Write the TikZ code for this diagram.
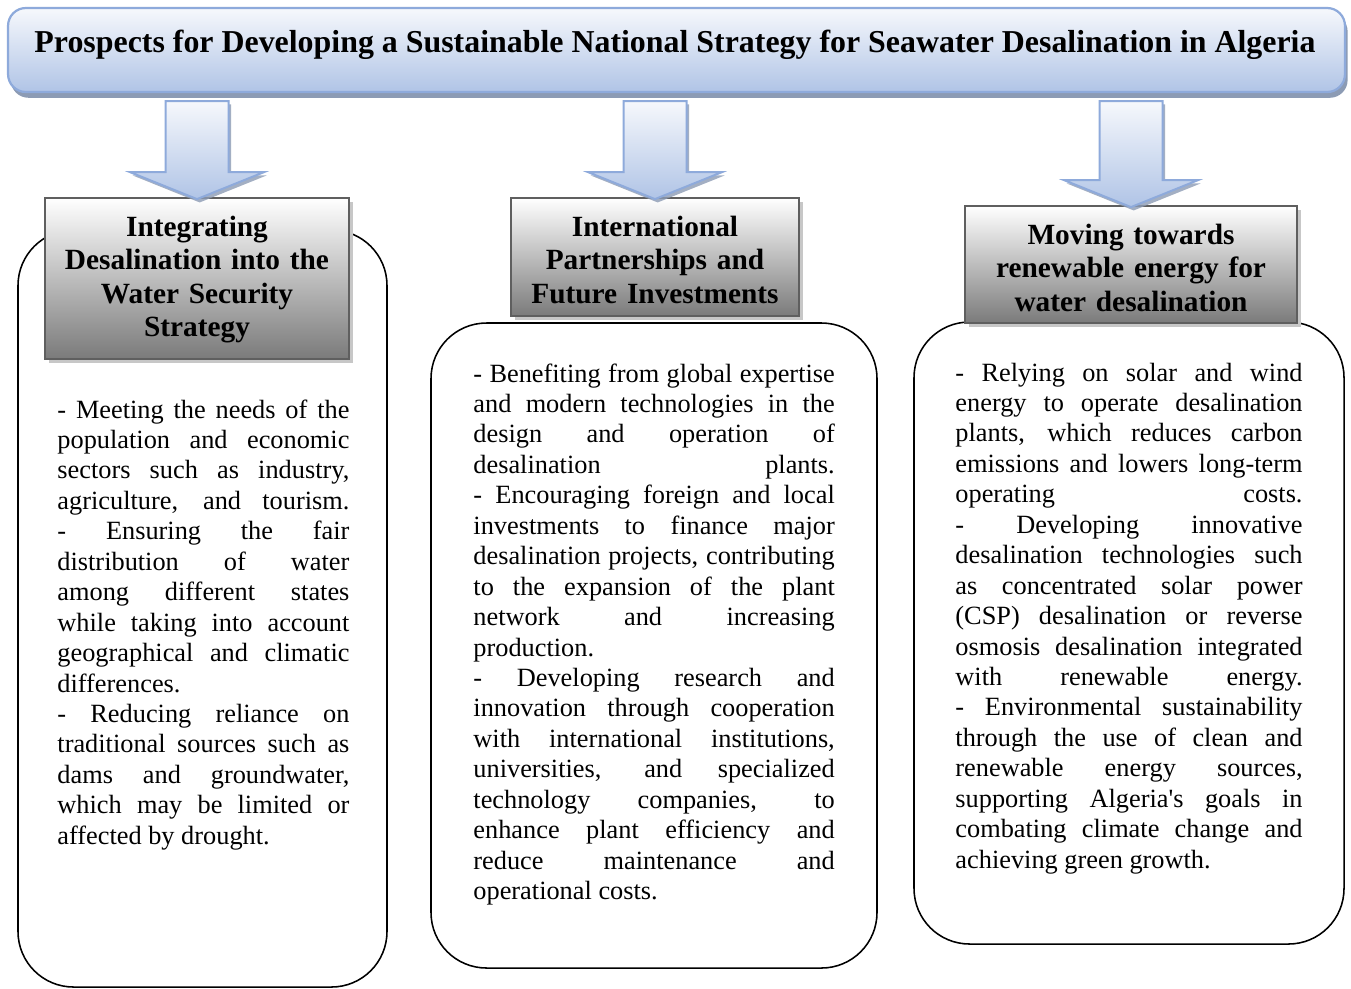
\documentclass[tikz,border=0pt]{standalone}
\usepackage{fontspec}
\setmainfont{Liberation Serif}
\usepackage{tikz}
\usetikzlibrary{positioning,calc,shadows}

\definecolor{paleblue}{HTML}{F6F8FC}
\definecolor{skyblue}{HTML}{B0C4E6}
\definecolor{edgeblue}{HTML}{8EAADB}
\definecolor{shadeblue}{HTML}{8C9BB4}
\definecolor{edgegray}{HTML}{5F5F5F}

\newcommand{\bodyset}{\tolerance=10000\hyphenpenalty=10000\exhyphenpenalty=10000\relax}

\tikzset{
    %Define style for the title banner
    banner/.style={
           draw=edgeblue, line width=1pt,
           rounded corners=8pt,
           top color=paleblue, bottom color=skyblue,
           drop shadow={shadow xshift=1.2pt, shadow yshift=-2.6pt,
                        fill=shadeblue, opacity=1}},
    %Define style for the grey headings
    headbox/.style={
           draw=edgegray, line width=0.8pt,
           top color=white, bottom color=black!52,
           drop shadow={shadow xshift=2pt, shadow yshift=-2pt,
                        fill=black!22, opacity=1}},
    %Define style for the rounded text cards
    card/.style={
           draw, line width=0.7pt, fill=white,
           rounded corners=25pt},
    % Define block arrow style
    blk/.style={
           draw=edgeblue, line width=0.9pt,
           top color=paleblue, bottom color=skyblue,
           drop shadow={shadow xshift=1.2pt, shadow yshift=-1.5pt,
                        fill=shadeblue, opacity=.8}}
}

\begin{document}
\begin{tikzpicture}[x=0.45pt, y=-0.45pt]
	% Styles
	\tikzstyle{head} = [align=center, inner sep=0pt, anchor=base, font=\fontsize{13.2}{15.1}\selectfont\bfseries]
	\tikzstyle{body} = [align=justify, inner sep=0pt, anchor=base west, font=\fontsize{11.85}{13.7}\selectfont]

	\useasboundingbox (0,0) rectangle (1351,988);

	% Text cards
	\node[card, minimum width=166.05pt, minimum height=340.65pt] (lcard) at (202.5,608.5) {};
	\node[card, minimum width=200.7pt, minimum height=290.25pt] (mcard) at (654,645.5) {};
	\node[card, minimum width=193.5pt, minimum height=279.9pt] (rcard) at (1129,633) {};

	% Headings
	\node[headbox, minimum width=136.8pt, minimum height=72.45pt] (hl) at (197,278.5) {};
	\node[headbox, minimum width=129.6pt, minimum height=53.1pt] (hm) at (655,257) {};
	\node[headbox, minimum width=149.4pt, minimum height=52.65pt] (hr) at (1131,264.5) {};

	\node[head, text width=136.8pt] (hltxt) at (197,236) {Integrating\\Desalination into the\\Water Security\\Strategy};
	\node[head, text width=129.6pt] (hmtxt) at (655,236) {International\\Partnerships and\\Future Investments};
	\node[head, text width=149.4pt] (hrtxt) at (1131,244) {Moving towards\\renewable energy for\\water desalination};

	% Card texts
	\node[body, text width=131.4pt] (ltxt) at (57,418) {\bodyset
	- Meeting the needs of the\linebreak
	population and economic\linebreak
	sectors such as industry,\linebreak
	agriculture, and tourism.\linebreak
	- Ensuring the fair\linebreak
	distribution of water\linebreak
	among different states\linebreak
	while taking into account\linebreak
	geographical and climatic\linebreak
	differences.\par
	- Reducing reliance on\linebreak
	traditional sources such as\linebreak
	dams and groundwater,\linebreak
	which may be limited or\linebreak
	affected by drought.};

	\node[body, text width=162.6pt] (mtxt) at (473,382) {\bodyset
	- Benefiting from global expertise\linebreak
	and modern technologies in the\linebreak
	design and operation of\linebreak
	desalination plants.\linebreak
	- Encouraging foreign and local\linebreak
	investments to finance major\linebreak
	desalination projects, contributing\linebreak
	to the expansion of the plant\linebreak
	network and increasing\linebreak
	production.\par
	- Developing research and\linebreak
	innovation through cooperation\linebreak
	with international institutions,\linebreak
	universities, and specialized\linebreak
	technology companies, to\linebreak
	enhance plant efficiency and\linebreak
	reduce maintenance and\linebreak
	operational costs.};

	\node[body, text width=156.2pt] (rtxt) at (955,381) {\bodyset
	- Relying on solar and wind\linebreak
	energy to operate desalination\linebreak
	plants, which reduces carbon\linebreak
	emissions and lowers long-term\linebreak
	operating costs.\linebreak
	- Developing innovative\linebreak
	desalination technologies such\linebreak
	as concentrated solar power\linebreak
	(CSP) desalination or reverse\linebreak
	osmosis desalination integrated\linebreak
	with renewable energy.\linebreak
	- Environmental sustainability\linebreak
	through the use of clean and\linebreak
	renewable energy sources,\linebreak
	supporting Algeria\textquotesingle s goals in\linebreak
	combating climate change and\linebreak
	achieving green growth.};

	% Title
	\node[banner, minimum width=601.6pt, minimum height=37.8pt, inner sep=0pt] (ttl) at (676.5,50) {};
	\node[anchor=base, inner sep=0pt, font=\fontsize{14.35}{17}\selectfont\bfseries] (ttltxt) at (675,52)
	     {Prospects for Developing a Sustainable National Strategy for Seawater Desalination in Algeria};

	% Arrows from the title down to each heading
	\foreach \b in {hl,hm,hr}
	  \draw[blk] ($(\b.north |- ttl.south)+(-31.5,8)$) -- ($(\b.north)+(-31.5,-25)$)
	       -- ($(\b.north)+(-67,-25)$) -- ($(\b.north)+(0,2)$)
	       -- ($(\b.north)+(67,-25)$) -- ($(\b.north)+(31.5,-25)$)
	       -- ($(\b.north |- ttl.south)+(31.5,8)$) -- cycle;
\end{tikzpicture}
\end{document}
